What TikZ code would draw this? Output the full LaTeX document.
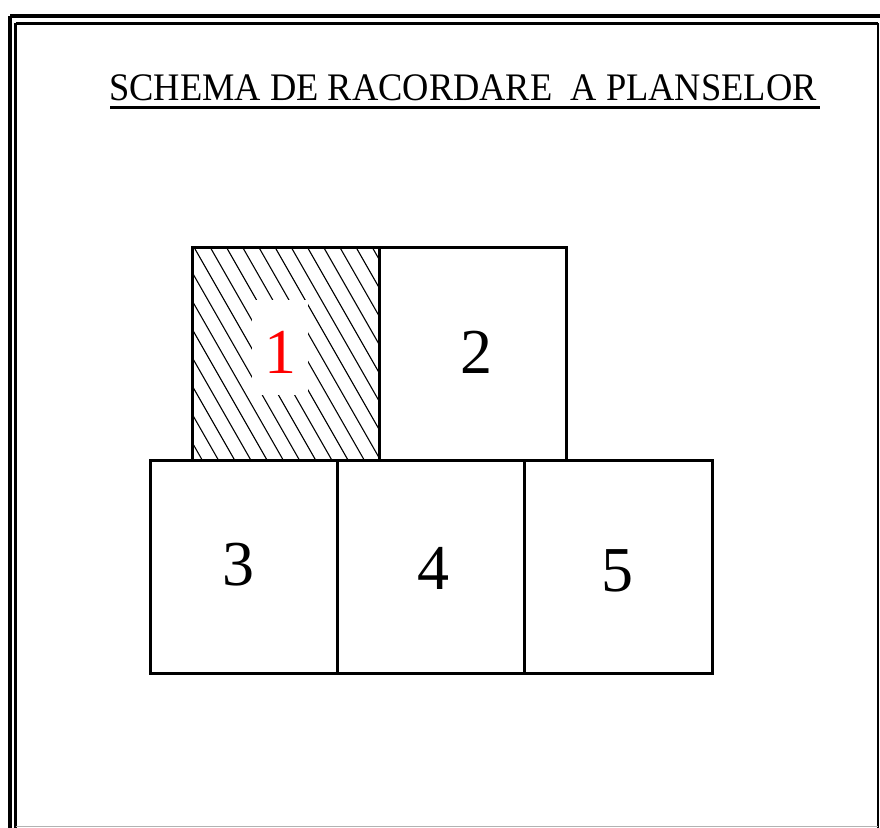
\documentclass[tikz,border=0pt]{standalone}
\usepackage{fontspec}
\setmainfont{Liberation Serif}
\begin{document}
\begin{tikzpicture}[x=1pt,y=-1pt,
  plate/.style={draw=black,line width=2.6pt,minimum width=187pt,minimum height=213pt,anchor=north west,inner sep=0pt},
  num/.style={font=\fontsize{64}{64}\selectfont},
  hatch/.style={line width=1.1pt}]
\useasboundingbox (0,0) rectangle (880,827);
% frame
\draw[line width=4pt] (10,16) -- (905,16);
\draw[line width=4pt] (10,16) -- (10,850);
\draw[line width=3pt] (15.5,23) -- (877.5,23);
\draw[line width=3pt] (15.5,23) -- (15.5,850);
\draw[line width=2pt] (877.5,23) -- (877.5,850);
\draw[line width=1pt,black!30] (15.5,826.5) -- (877.5,826.5);
% title
\node[font=\fontsize{39}{39}\selectfont,anchor=base,inner sep=0pt] (title) at (463,100) {\scalebox{0.934}[1]{SCHEMA DE RACORDARE\ \ A PLANSELOR}};
\draw[line width=3pt] (110,107) -- (820,107);
% hatching in plate 1
\begin{scope}
\clip (191,246) rectangle (378,459);
\foreach \i in {-14,...,11}{
  \draw[hatch] ({193.3+16.2*\i},246) -- ({193.3+16.2*\i+200},{246+350});
}
\fill[white] (252,300) rectangle (308,395);
\end{scope}
% plates
\node[plate] (p1) at (191,246) {};
\node[plate] (p2) at (378,246) {};
\node[plate] (p3) at (149,459) {};
\node[plate] (p4) at (336,459) {};
\node[plate,minimum width=188pt] (p5) at (523,459) {};
% labels
\node[num,text=red] (l1) at (280,352) {1};
\node[num] (l2) at (476,352) {2};
\node[num] (l3) at (238,565) {3};
\node[num] (l4) at (433,568) {4};
\node[num] (l5) at (617,571) {5};
\end{tikzpicture}
\end{document}
